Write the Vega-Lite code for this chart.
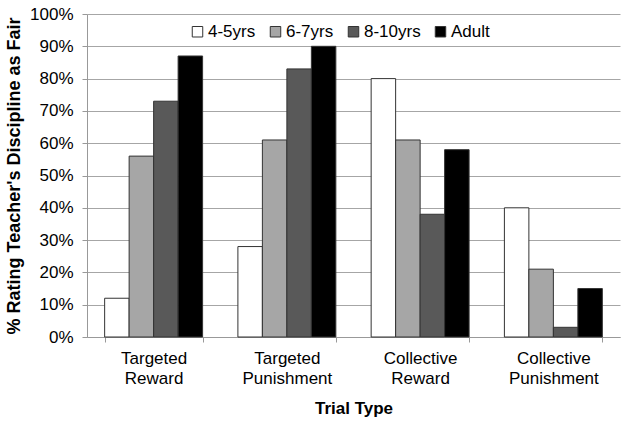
{
  "$schema": "https://vega.github.io/schema/vega-lite/v6.json",
  "width": 533,
  "height": 323,
  "autosize": {"type": "none"},
  "padding": {"left": 87, "top": 14, "right": 9, "bottom": 88},
  "background": "white",
  "config": {
    "font": "Liberation Sans",
    "view": {"stroke": null}
  },
  "data": {
    "values": [
      {"trial": "Targeted Reward", "group": "4-5yrs", "value": 0.12},
      {"trial": "Targeted Reward", "group": "6-7yrs", "value": 0.56},
      {"trial": "Targeted Reward", "group": "8-10yrs", "value": 0.73},
      {"trial": "Targeted Reward", "group": "Adult", "value": 0.87},
      {"trial": "Targeted Punishment", "group": "4-5yrs", "value": 0.28},
      {"trial": "Targeted Punishment", "group": "6-7yrs", "value": 0.61},
      {"trial": "Targeted Punishment", "group": "8-10yrs", "value": 0.83},
      {"trial": "Targeted Punishment", "group": "Adult", "value": 0.90},
      {"trial": "Collective Reward", "group": "4-5yrs", "value": 0.80},
      {"trial": "Collective Reward", "group": "6-7yrs", "value": 0.61},
      {"trial": "Collective Reward", "group": "8-10yrs", "value": 0.38},
      {"trial": "Collective Reward", "group": "Adult", "value": 0.58},
      {"trial": "Collective Punishment", "group": "4-5yrs", "value": 0.40},
      {"trial": "Collective Punishment", "group": "6-7yrs", "value": 0.21},
      {"trial": "Collective Punishment", "group": "8-10yrs", "value": 0.03},
      {"trial": "Collective Punishment", "group": "Adult", "value": 0.15}
    ]
  },
  "mark": {"type": "bar", "stroke": "#333333", "strokeWidth": 1},
  "encoding": {
    "x": {
      "field": "trial",
      "type": "nominal",
      "sort": ["Targeted Reward", "Targeted Punishment", "Collective Reward", "Collective Punishment"],
      "scale": {"paddingInner": 0.265, "paddingOuter": 0.1325},
      "axis": {
        "title": "Trial Type",
        "titleFontSize": 17,
        "titleFontWeight": "bold",
        "titleColor": "black",
        "titlePadding": 14,
        "labelAngle": 0,
        "labelFontSize": 17,
        "labelColor": "black",
        "labelExpr": "split(datum.label, ' ')",
        "labelLineHeight": 20,
        "labelPadding": 8,
        "tickBand": "extent",
        "tickSize": 5,
        "tickColor": "#999999",
        "domainColor": "#999999",
        "grid": false
      }
    },
    "xOffset": {
      "field": "group",
      "type": "nominal",
      "sort": ["4-5yrs", "6-7yrs", "8-10yrs", "Adult"],
      "scale": {"paddingInner": 0, "paddingOuter": 0}
    },
    "y": {
      "field": "value",
      "type": "quantitative",
      "scale": {"domain": [0, 1], "nice": false},
      "axis": {
        "title": "% Rating Teacher's Discipline as Fair",
        "titleFontSize": 18,
        "titleFontWeight": "bold",
        "titleColor": "black",
        "titlePadding": 6,
        "format": "%",
        "values": [0, 0.1, 0.2, 0.3, 0.4, 0.5, 0.6, 0.7, 0.8, 0.9, 1],
        "labelFontSize": 17,
        "labelColor": "black",
        "labelPadding": 9,
        "tickSize": 5,
        "tickColor": "#999999",
        "domainColor": "#999999",
        "gridColor": "#a6a6a6",
        "gridWidth": 1
      }
    },
    "fill": {
      "field": "group",
      "type": "nominal",
      "sort": ["4-5yrs", "6-7yrs", "8-10yrs", "Adult"],
      "scale": {"domain": ["4-5yrs", "6-7yrs", "8-10yrs", "Adult"], "range": ["#ffffff", "#a6a6a6", "#595959", "#000000"]},
      "legend": {
        "title": null,
        "orient": "none",
        "direction": "horizontal",
        "legendX": 102,
        "legendY": 9,
        "symbolType": "square",
        "symbolSize": 110,
        "symbolStrokeColor": "#333333",
        "symbolStrokeWidth": 1,
        "labelFontSize": 17,
        "labelColor": "black",
        "labelOffset": 2,
        "columnPadding": 11
      }
    }
  }
}
